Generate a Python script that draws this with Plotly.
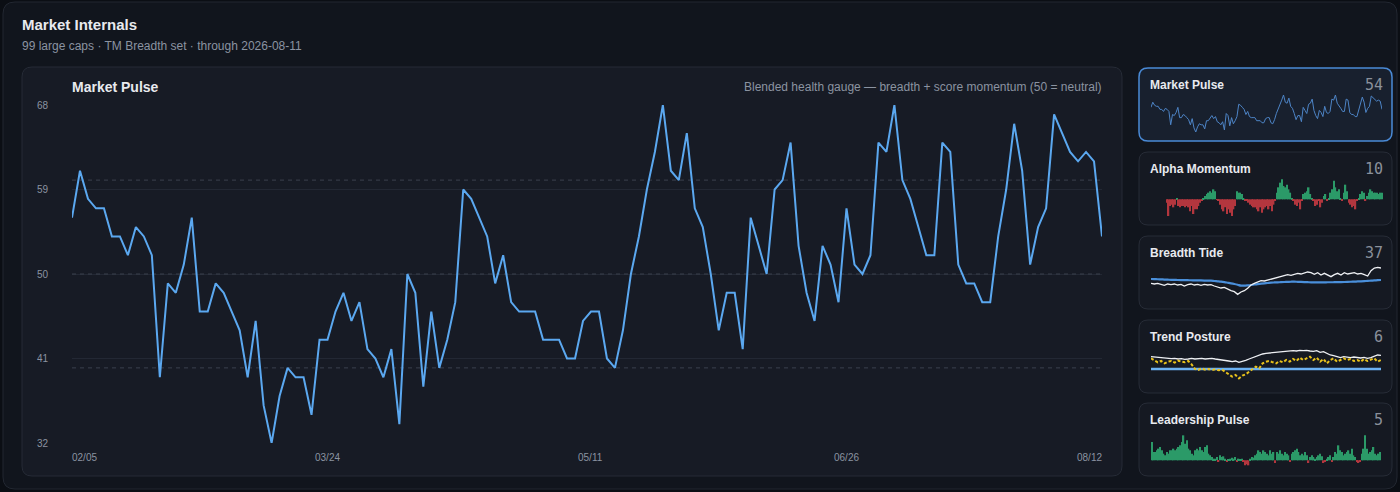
import plotly.graph_objects as go

W, H = 1400, 492

# ---------- data ----------
pulse = [56, 61, 58, 57, 57, 54, 54, 52, 55, 54, 52, 39, 49, 48, 51, 56, 46, 46, 49, 48,
         46, 44, 39, 45, 36, 32, 37, 40, 39, 39, 35, 43, 43, 46, 48, 45, 47, 42, 41, 39,
         42, 34, 50, 48, 38, 46, 40, 43, 47, 59, 58, 56, 54, 49, 52, 47, 46, 46, 46, 43,
         43, 43, 41, 41, 45, 46, 46, 41, 40, 44, 50, 54, 59, 63, 68, 61, 60, 65, 57, 55,
         50, 44, 48, 48, 42, 56, 53, 50, 59, 60, 64, 53, 48, 45, 53, 51, 47, 57, 51, 50,
         52, 64, 63, 68, 60, 58, 55, 52, 52, 64, 63, 51, 49, 49, 47, 47, 54, 59, 66, 61,
         51, 55, 57, 67, 65, 63, 62, 63, 62, 54]
pulse_days = list(range(len(pulse)))
tick_idx = [0, 32, 65, 97, 129]
tick_text = ["02/05", "03/24", "05/11", "06/26", "08/12"]
y_ticks = [32, 41, 50, 59, 68]
ref_levels = [40, 50, 60]

alpha_mom = [-5, -25, -10, -8, -12, -8, 2, -10, -12, -10, -10, -12, -10, -12, -18, -10, -22, -15, -15, -10, -5, -2, 2,
             5, 8, 10, 12, 10, 15, 12, -1,
             -2, -8, -15, -18, -12, -22, -15, -20, -25, -15, -10,
             12, 10, 10, 8, 2,
             -2, -2, -5, -8, -10, -12, -12, -15, -18, -12, -20, -15, -12, -10, -15, -10, -18, -8, -2,
             10, 18, 25, 30, 20, 18, 22, 15, 10, 2,
             -2, -8, -10, -5, -15, -2,
             8, 10, 12, 18, 8, 2,
             -2, -10, -8, -2, -12, -5,
             5, 8, -2, 2, 10, 15, 28, 18, 12, 15, 2, -2,
             10, 22, 12, -5, -8, -12, -10, -15, -2,
             2, 8, 12, 10, -2, 5, 10, 15, 12, 10, 10, 10, 8, 10, 10]

breadth_line = [45, 44, 45, 43.5, 42, 44, 43, 44, 42.5, 43.5, 41, 43, 44, 42.5, 43.5, 42, 43.5, 42.5, 43, 41,
                40, 38, 39, 36, 34, 32.5, 28.5, 32, 34, 37.5, 42.5, 45, 47, 49, 48.5, 50, 51.5, 52, 54, 55,
                57, 58, 57, 59, 60, 59, 61, 62, 61, 58.5, 61, 57.5, 60, 58, 55, 58, 60, 57.5, 61, 59,
                60, 61, 59, 60, 58, 56, 64, 68, 69, 68]
breadth_avg = [51.5, 51.3, 51.1, 50.9, 50.7, 50.5, 50.3, 50.2, 50.0, 49.9, 49.8, 49.7, 49.6, 49.5, 49.4, 49.3, 49.2, 49.1, 49.0, 48.5,
               48.0, 47.5, 46.8, 45.9, 45.0, 44.0, 42.8, 41.5, 41.6, 42.0, 42.5, 43.2, 43.9, 44.5, 45.0, 45.5, 46.0, 46.3, 46.5, 46.8,
               47.0, 47.2, 47.4, 47.5, 47.3, 47.1, 46.9, 46.7, 46.5, 46.5, 46.4, 46.5, 46.5, 46.6, 46.6, 46.7, 46.8, 46.9, 47.0, 47.2,
               47.4, 47.6, 47.8, 48.0, 48.3, 48.7, 49.0, 49.3, 49.7, 50.0]

trend_line = [62.5, 62, 61, 61.5, 60, 60.5, 59.5, 60, 59, 59.5, 58.5, 59, 60, 59, 59.5, 60, 59, 59.5, 60, 59,
              58.5, 57.5, 57, 56, 55, 56, 54, 55, 57, 59, 61, 63, 65, 66.5, 67.5, 68, 69, 69.5, 70, 70.5,
              71, 70.5, 71.5, 71, 72, 71.5, 72, 71, 70.5, 71.5, 69, 70, 67, 65, 64, 62, 61, 62.5, 61.5, 61,
              62, 61, 60.5, 61.5, 60, 61, 63.5, 65, 64.5]
trend_dots = [60, 57.5, 54, 56, 52.5, 55, 56, 53.5, 56.5, 55, 54, 56, 51, 44, 42.5, 45, 43, 44, 42.5, 43.5,
              42, 43, 40, 36, 32.5, 35, 30, 34, 36, 40, 44, 47.5, 45, 52.5, 55, 56, 54, 52.5, 56, 54,
              57.5, 55, 59, 56, 61, 57.5, 60, 62.5, 57.5, 61, 55, 59, 52.5, 57.5, 60, 55, 57.5, 60, 57.5, 59,
              56, 57.5, 55, 59, 56, 57.5, 60, 55, 57.5]
trend_floor = 44

leadership = [11, 5, 5, 6, 7, 8, 6, 4, 3, 5, 4, 6, 6, 7, 6, 7, 8, 9, 11, 15,
              10, 12, 7, 6, 4, 3, 6, 7, 6, 8, 6, 5, 8, 9, 4, 3, 2, 1, 1, 2,
              -0.6, 3, 2, 2.4, 1, -1, 0.6, 1, 1.6, 1, 2, -0.6, 1, 0.6, 1, -1, -3, -2.4, -3, 1,
              2, 1.6, 3, 4, 6, 5, 4, 6, 5, 4, 3, 6, 4, 5, -1.6, 5, 4, 6, 4, 3,
              5, 4, 3, -1, 4, 5, 6, 7, 5, 3, 4, 3, 5, 3, -1.6, 2, 3, 2, 1, 2,
              3, 4, 2.4, -1.6, -1, 1, 2, 3, -0.6, 2, 5, 4, 9, 6, 5, 3, 4, 5, 6, 4,
              7, 3, 2, -1, -1.6, -1, 4, 7, 15, 7, 4, 5, 6, 8, 4, 3, 4, 5]

card_names = ["Market Pulse", "Alpha Momentum", "Breadth Tide", "Trend Posture", "Leadership Pulse"]
card_values = [54, 10, 37, 6, 5]

# ---------- palette ----------
PAGE = "#0b0e14"
OUTER = "#11151d"
PANEL = "#171b25"
CARD = "#151922"
BORDER = "#262b36"
TEXT = "#e8eaef"
MUTED = "#8b93a1"
BLUE = "#5ba8f0"
GREEN = "#2b9a68"
RED = "#b3363e"
FONT = "Liberation Sans, Arial, sans-serif"


def px(x):
    return x / W


def py(y):
    return 1 - y / H


def rounded(x0, y0, x1, y1, r=10):
    rx, ry = r / W, r / H
    a0, a1, b0, b1 = px(x0), px(x1), py(y0), py(y1)
    return (f"M{a0+rx},{b0} L{a1-rx},{b0} Q{a1},{b0} {a1},{b0-ry} "
            f"L{a1},{b1+ry} Q{a1},{b1} {a1-rx},{b1} L{a0+rx},{b1} "
            f"Q{a0},{b1} {a0},{b1+ry} L{a0},{b0-ry} Q{a0},{b0} {a0+rx},{b0} Z")


fig = go.Figure()

# dashed reference levels (50 = neutral)
for lv in ref_levels:
    fig.add_trace(go.Scatter(x=[pulse_days[0], pulse_days[-1]], y=[lv, lv], mode="lines",
                             line=dict(color="#3b414d", width=1, dash="4px,4px"),
                             hoverinfo="skip", xaxis="x", yaxis="y"))

# main chart
fig.add_trace(go.Scatter(x=pulse_days, y=pulse, mode="lines", cliponaxis=False,
                         line=dict(color=BLUE, width=2), xaxis="x", yaxis="y"))

# sparklines
fig.add_trace(go.Scatter(x=pulse_days, y=pulse, mode="lines",
                         line=dict(color="#4d84c6", width=1), xaxis="x2", yaxis="y2"))
fig.add_trace(go.Bar(x=list(range(len(alpha_mom))), y=alpha_mom,
                     marker=dict(color=[GREEN if v >= 0 else RED for v in alpha_mom], line_width=0),
                     xaxis="x3", yaxis="y3"))
fig.add_trace(go.Scatter(x=list(range(len(breadth_avg))), y=breadth_avg, mode="lines",
                         line=dict(color="#4a8fda", width=2.2, shape="spline"), xaxis="x4", yaxis="y4"))
fig.add_trace(go.Scatter(x=list(range(len(breadth_line))), y=breadth_line, mode="lines",
                         line=dict(color="#eef0f4", width=1.3), xaxis="x4", yaxis="y4"))
fig.add_trace(go.Scatter(x=[0, len(trend_line) - 1], y=[trend_floor, trend_floor], mode="lines",
                         line=dict(color="#6cb1f2", width=2.5), xaxis="x5", yaxis="y5"))
fig.add_trace(go.Scatter(x=list(range(len(trend_line))), y=trend_line, mode="lines",
                         line=dict(color="#eef0f4", width=1.3), xaxis="x5", yaxis="y5"))
fig.add_trace(go.Scatter(x=list(range(len(trend_dots))), y=trend_dots, mode="lines",
                         line=dict(color="#e9c21c", width=2, dash="3px,2px"), xaxis="x5", yaxis="y5"))
fig.add_trace(go.Bar(x=list(range(len(leadership))), y=leadership,
                     marker=dict(color=[GREEN if v >= 0 else RED for v in leadership], line_width=0),
                     xaxis="x6", yaxis="y6"))

# ---------- card shapes ----------
shapes = [
    dict(type="path", xref="paper", yref="paper", path=rounded(3, 2, 1397, 489, 12),
         fillcolor=OUTER, line=dict(color="#222731", width=1), layer="below"),
    dict(type="path", xref="paper", yref="paper", path=rounded(22, 67, 1122, 476, 10),
         fillcolor=PANEL, line=dict(color=BORDER, width=1), layer="below"),
]
card_rows = [(68, 141), (152, 225), (236, 309), (320, 393), (403, 476)]
for k, (t, b) in enumerate(card_rows):
    active = k == 0
    shapes.append(dict(type="path", xref="paper", yref="paper", path=rounded(1139, t, 1392, b, 9),
                       fillcolor="#18202e" if active else CARD,
                       line=dict(color="#4a8ad6" if active else "#272c37", width=1.5 if active else 1),
                       layer="below"))

# ---------- annotations ----------
ann = [
    dict(x=px(20), y=py(25), text="<b>Market Internals</b>", xanchor="left", yanchor="middle",
         font=dict(size=15, color=TEXT)),
    dict(x=px(20), y=py(46), text="99 large caps · TM Breadth set · through 2026-08-11",
         xanchor="left", yanchor="middle", font=dict(size=12, color=MUTED)),
    dict(x=px(70), y=py(87), text="<b>Market Pulse</b>", xanchor="left", yanchor="middle",
         font=dict(size=14, color=TEXT)),
    dict(x=px(1104), y=py(87), text="Blended health gauge — breadth + score momentum (50 = neutral)",
         xanchor="right", yanchor="middle", font=dict(size=12, color=MUTED)),
]
for i, (ti, tt) in enumerate(zip(tick_idx, tick_text)):
    anchor = "left" if i == 0 else ("right" if i == len(tick_idx) - 1 else "center")
    shift = {"left": -2, "right": 2, "center": 0}[anchor]
    ann.append(dict(x=ti, xref="x", y=py(457), yref="paper", text=tt, xanchor=anchor, xshift=shift,
                    yanchor="middle", font=dict(size=10, color=MUTED)))
for (t, b), name, val in zip(card_rows, card_names, card_values):
    ann.append(dict(x=px(1148), y=py(t + 17), text=f"<b>{name}</b>", xanchor="left", yanchor="middle",
                    font=dict(size=12, color=TEXT)))
    ann.append(dict(x=px(1385), y=py(t + 17), text=str(val), xanchor="right", yanchor="middle",
                    font=dict(size=15, color="#8a909b", family="DejaVu Sans Mono, monospace")))
for a in ann:
    a.setdefault("xref", "paper")
    a.setdefault("yref", "paper")
    a["showarrow"] = False

hidden = dict(visible=False, fixedrange=True, automargin=False)


def dom_x(a, b):
    return [px(a), px(b)]


def dom_y(top, bottom):
    return [py(bottom), py(top)]


fig.update_layout(
    width=W, height=H,
    margin=dict(l=0, r=0, t=0, b=0, pad=0, autoexpand=False),
    paper_bgcolor=PAGE, plot_bgcolor="rgba(0,0,0,0)",
    font=dict(family=FONT, color=TEXT),
    showlegend=False, bargap=0.12,
    shapes=shapes, annotations=ann,
    xaxis=dict(domain=dom_x(72, 1102), range=[0, len(pulse) - 1], anchor="y", automargin=False,
               showgrid=False, zeroline=False, showticklabels=False, showline=False),
    yaxis=dict(domain=dom_y(105, 443), range=[32, 68], anchor="x", automargin=False,
               tickvals=y_ticks, gridcolor="#232834", gridwidth=1, zeroline=False,
               showline=False, ticks="", ticklabelstandoff=23,
               tickfont=dict(size=10, color=MUTED)),
    xaxis2=dict(hidden, domain=dom_x(1151, 1382), range=[0, len(pulse) - 1], anchor="y2"),
    yaxis2=dict(hidden, domain=dom_y(95, 132), range=[32, 68], anchor="x2"),
    xaxis3=dict(hidden, domain=dom_x(1166, 1383), range=[-0.5, len(alpha_mom) - 0.5], anchor="y3"),
    yaxis3=dict(hidden, domain=dom_y(178, 217), range=[-26.5, 32], anchor="x3"),
    xaxis4=dict(hidden, domain=dom_x(1151, 1381), range=[0, len(breadth_line) - 1], anchor="y4"),
    yaxis4=dict(hidden, domain=dom_y(260, 304), range=[14, 80], anchor="x4"),
    xaxis5=dict(hidden, domain=dom_x(1151, 1381), range=[0, len(trend_line) - 1], anchor="y5"),
    yaxis5=dict(hidden, domain=dom_y(345, 389), range=[14, 80], anchor="x5"),
    xaxis6=dict(hidden, domain=dom_x(1151, 1381), range=[-0.5, len(leadership) - 0.5], anchor="y6"),
    yaxis6=dict(hidden, domain=dom_y(432, 468), range=[-4.6, 17], anchor="x6"),
)

fig.write_html("out.html", config={"displayModeBar": False},
               post_script="document.body.style.margin='0';document.body.style.overflow='hidden';")
